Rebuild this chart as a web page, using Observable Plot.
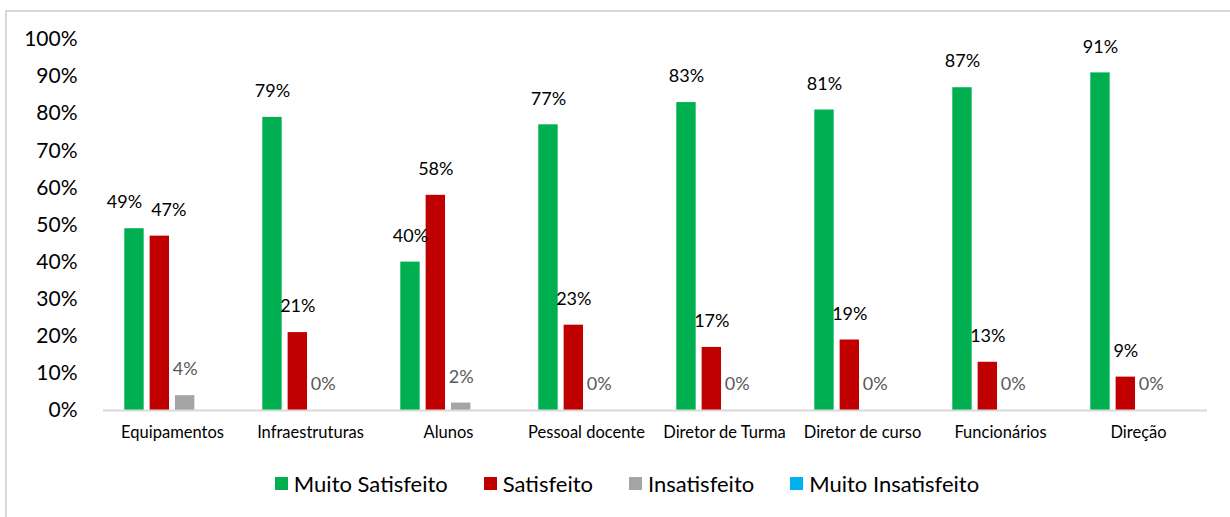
<!DOCTYPE html>
<html><head><meta charset="utf-8">
<script src="https://cdn.jsdelivr.net/npm/d3@7"></script>
<script src="https://cdn.jsdelivr.net/npm/@observablehq/plot@0.6"></script>
<style>
body{margin:0;background:#fff;font-family:Lato,sans-serif;}
#wrap{position:relative;width:1230px;height:517px;overflow:hidden;background:#fff;}
#frame{position:absolute;left:5px;top:10px;width:1300px;height:600px;border:2px solid #d9d9d9;box-sizing:border-box;}
#chart{position:absolute;left:0;top:0;}
#legend{position:absolute;top:470px;left:0;width:1254px;display:flex;justify-content:center;gap:36px;font-size:22px;color:#000;}
#legend .item{display:flex;align-items:center;gap:6px;white-space:nowrap;}
#legend .sw{width:13px;height:13px;display:inline-block;}
</style></head>
<body><div id="wrap"><div id="frame"></div><div id="chart"></div><div id="legend"></div></div>
<script>
const categories = ["Equipamentos","Infraestruturas","Alunos","Pessoal docente","Diretor de Turma","Diretor de curso","Funcionários","Direção"];
const series = ["Muito Satisfeito","Satisfeito","Insatisfeito","Muito Insatisfeito"];
const colors = ["#00B050","#C00000","#A5A5A5","#00B0F0"];
const muitoSatisfeito = [49,79,40,77,83,81,87,91];
const satisfeito = [47,21,58,23,17,19,13,9];
const insatisfeito = [4,0,2,0,0,0,0,0];
const muitoInsatisfeito = [0,0,0,0,0,0,0,0];
const yTicks = [0,10,20,30,40,50,60,70,80,90,100];

const seriesValues = [muitoSatisfeito, satisfeito, insatisfeito, muitoInsatisfeito];
const data = categories.flatMap((c, i) => series.map((s, j) => ({category: c, series: s, value: seriesValues[j][i]})));
// labels in the first group are nudged apart (as in the reference) so they do not collide
const first = categories[0];
const darkLabels = data.filter(d => (d.series === "Muito Satisfeito" || d.series === "Satisfeito") && d.category !== first);
const leftNudged = data.filter(d => d.series === "Muito Satisfeito" && d.category === first);
const rightNudged = data.filter(d => d.series === "Satisfeito" && d.category === first);
const grayLabels = data.filter(d => d.series === "Insatisfeito");
const pct = d => d.value + "%";
const lab = {fx: "category", x: "series", y: "value", text: pct, dy: -26, fontSize: 18};

const chart = Plot.plot({
  width: 1230, height: 455,
  marginLeft: 99, marginRight: 20, marginTop: 39, marginBottom: 45,
  style: {fontFamily: "Lato, sans-serif", background: "transparent", color: "#000"},
  fx: {domain: categories, padding: 0, axis: null, label: null},
  x: {domain: series, axis: null, paddingInner: 0.235, paddingOuter: 0.84, round: false},
  y: {domain: [0, 100], axis: null},
  color: {domain: series, range: colors},
  marks: [
    Plot.axisY({ticks: yTicks, tickSize: 0, tickPadding: 26, tickFormat: d => d + "%", fontSize: 21, label: null}),
    Plot.axisFx({anchor: "bottom", tickSize: 0, tickPadding: 16, fontSize: 16.5, label: null}),
    Plot.barY(data, {fx: "category", x: "series", y: "value", fill: "series"}),
    Plot.ruleY([0], {stroke: "#d9d9d9", strokeWidth: 2}),
    Plot.text(darkLabels, {...lab, fill: "#000"}),
    Plot.text(leftNudged, {...lab, fill: "#000", dx: -10}),
    Plot.text(rightNudged, {...lab, fill: "#000", dx: 9}),
    Plot.text(grayLabels, {...lab, fill: "#595959"})
  ]
});
document.getElementById("chart").appendChild(chart);

const legend = document.getElementById("legend");
series.forEach((s, i) => {
  const item = document.createElement("div");
  item.className = "item";
  const sw = document.createElement("span");
  sw.className = "sw";
  sw.style.background = colors[i];
  const t = document.createElement("span");
  t.textContent = s;
  item.appendChild(sw); item.appendChild(t);
  legend.appendChild(item);
});
</script>
</body></html>
